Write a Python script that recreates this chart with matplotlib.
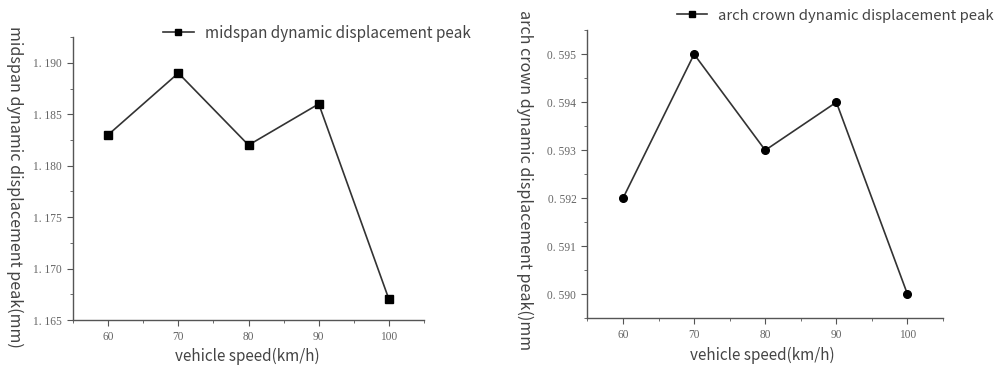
import matplotlib
matplotlib.use("Agg")
import matplotlib.pyplot as plt
from matplotlib.ticker import MultipleLocator, FuncFormatter
from matplotlib.lines import Line2D

speed = [60, 70, 80, 90, 100]
midspan = [1.183, 1.189, 1.182, 1.186, 1.167]
arch = [0.592, 0.595, 0.593, 0.594, 0.590]

mid_label = "midspan dynamic displacement peak"
arch_label = "arch crown dynamic displacement peak"
mid_ylabel = "midspan dynamic displacement peak(mm)"
arch_ylabel = "arch crown dynamic displacement peak()mm"
xlabel = "vehicle speed(km/h)"

fig = plt.figure(figsize=(9.99, 3.67), dpi=100)
line_c = "#333333"
text_c = "#444444"
tick_c = "#666666"
sans = ["Noto Sans CJK SC", "DejaVu Sans"]
serif = "Liberation Serif"

def fmt(v, pos):
    s = f"{v:.3f}"
    return s.replace(".", ". ")

def style(ax, ylim, ymaj):
    ax.set_xlim(55, 105)
    ax.set_ylim(*ylim)
    ax.set_xticks(speed)
    ax.xaxis.set_minor_locator(MultipleLocator(5))
    ax.yaxis.set_major_locator(MultipleLocator(ymaj))
    ax.yaxis.set_minor_locator(MultipleLocator(ymaj / 2))
    ax.yaxis.set_major_formatter(FuncFormatter(fmt))
    for s in ["top", "right"]:
        ax.spines[s].set_visible(False)
    for s in ["left", "bottom"]:
        ax.spines[s].set_color("#555555")
        ax.spines[s].set_linewidth(1.0)
    ax.tick_params(which="major", direction="out", length=4, width=0.8, color="#555555",
                   labelsize=8.3, labelcolor=tick_c, pad=4)
    ax.tick_params(which="minor", direction="out", length=2, width=0.6, color="#555555")
    for lab in ax.get_xticklabels() + ax.get_yticklabels():
        lab.set_fontfamily(serif)

ax1 = fig.add_axes([0.0731, 0.128, 0.3514, 0.771])
ax1.plot(speed, midspan, color=line_c, lw=1.2, marker="s", ms=5.5, mfc="black", mec="black")
style(ax1, (1.165, 1.1925), 0.005)

ax2 = fig.add_axes([0.588, 0.1327, 0.356, 0.785])
ax2.plot(speed, arch, color=line_c, lw=1.2, marker="o", ms=5.5, mfc="black", mec="black")
style(ax2, (0.5895, 0.5955), 0.001)

h = Line2D([], [], color=line_c, lw=1.2, marker="s", ms=5, mfc="black", mec="black")
fig.legend([h], [mid_label], loc="center left", bbox_to_anchor=(163 / 999, 1 - 33 / 367),
           frameon=False, handlelength=2.0, handletextpad=0.75, borderaxespad=0,
           prop={"family": sans, "size": 11}, labelcolor=text_c, borderpad=0)
h2 = Line2D([], [], color=line_c, lw=1.2, marker="s", ms=5, mfc="black", mec="black")
fig.legend([h2], [arch_label], loc="center left", bbox_to_anchor=(677 / 999, 1 - 15.7 / 367),
           frameon=False, handlelength=2.0, handletextpad=0.75, borderaxespad=0,
           prop={"family": sans, "size": 10.7}, labelcolor=text_c, borderpad=0)

fig.text(247 / 999, 1 - 356 / 367, xlabel, ha="center", va="center", fontsize=11,
         family=sans, color=text_c)
fig.text(762 / 999, 1 - 355 / 367, xlabel, ha="center", va="center", fontsize=11,
         family=sans, color=text_c)
fig.text(15 / 999, 1 - 187 / 367, mid_ylabel, ha="center", va="center", rotation=270,
         fontsize=11.6, family=sans, color=text_c)
fig.text(525 / 999, 1 - 180 / 367, arch_ylabel, ha="center", va="center", rotation=270,
         fontsize=11.6, family=sans, color=text_c)

fig.savefig("out.png", dpi=100)
